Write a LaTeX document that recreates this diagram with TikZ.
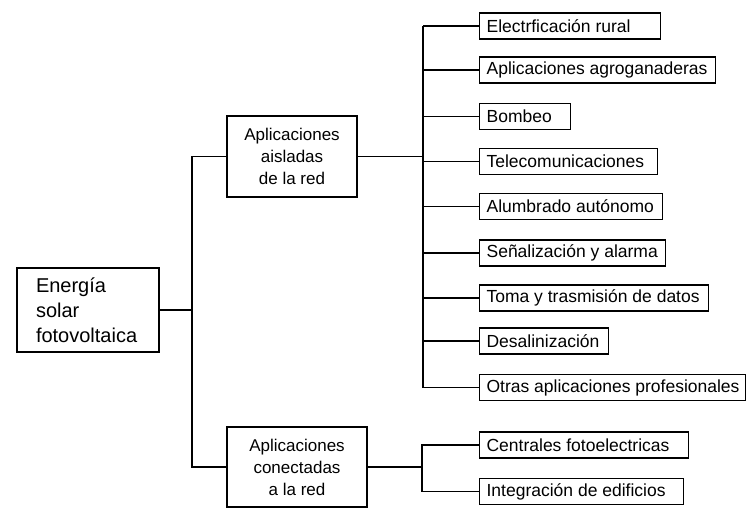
\documentclass[tikz,border=0pt]{standalone}
\usepackage{fontspec}
\setmainfont{Liberation Sans}
\usetikzlibrary{positioning}

\tikzset{
    caja/.style={draw, line width=1.2pt, inner sep=0pt},
    hoja/.style={caja, anchor=west, minimum height=26pt, inner xsep=7pt,
        font=\fontsize{17.5}{20}\selectfont},
    grupo/.style={caja, align=center, font=\fontsize{17}{22}\selectfont},
    linea/.style={line width=1.2pt}
}
\newcommand{\hojatexto}[2]{\makebox[#1pt][l]{#2}}

\begin{document}
\begin{tikzpicture}[x=1pt,y=-1pt]
    \useasboundingbox (0,0) rectangle (746,508);

    % Root and the two groups
    \node[caja, align=left, minimum width=142pt, minimum height=84pt,
        inner xsep=19pt, text width=104pt, font=\fontsize{20}{25}\selectfont]
        (energia) at (88,310) {Energía\\solar\\fotovoltaica};
    \node[grupo, minimum width=130pt, minimum height=81pt] (aisladas) at (292,156.5)
        {Aplicaciones\\aisladas\\de la red};
    \node[grupo, minimum width=140pt, minimum height=80pt] (conectadas) at (297,467)
        {Aplicaciones\\conectadas\\a la red};

    % Left trunk
    \coordinate (izq) at (192,310);
    \draw[linea] (energia.east) -- (izq);
    \draw[linea] (aisladas.west) -| (izq) |- (conectadas.west);

    % Isolated applications
    \foreach \nombre/\y/\ancho/\texto in {
        e1/26/167/Electrficación rural,
        e2/70/222/Aplicaciones agroganaderas,
        e3/116.5/77/Bombeo,
        e4/161.5/164/Telecomunicaciones,
        e5/206.5/169/Alumbrado autónomo,
        e6/253/172/Señalización y alarma,
        e7/298/215/Toma y trasmisión de datos,
        e8/341/115/Desalinización,
        e9/387.5/252/Otras aplicaciones profesionales} {
        \node[hoja] (\nombre) at (479,\y) {\hojatexto{\ancho}{\texto}};
    }

    \coordinate (der) at (423,156.5);
    \draw[linea] (aisladas.east) -- (der);
    \draw[linea] (e1.west -| der) -- (e9.west -| der);
    \foreach \nombre in {e1,e2,e3,e4,e5,e6,e7,e8,e9} {
        \draw[linea] (\nombre.west) -- (\nombre.west -| der);
    }

    % Grid-connected applications
    \node[hoja] (c1) at (479,445) {\hojatexto{195}{Centrales fotoelectricas}};
    \node[hoja] (c2) at (479,491.5) {\hojatexto{190}{Integración de edificios}};

    \coordinate (bif) at (422,467);
    \draw[linea] (conectadas.east) -- (bif);
    \draw[linea] (c1.west) -| (bif) |- (c2.west);
\end{tikzpicture}
\end{document}
